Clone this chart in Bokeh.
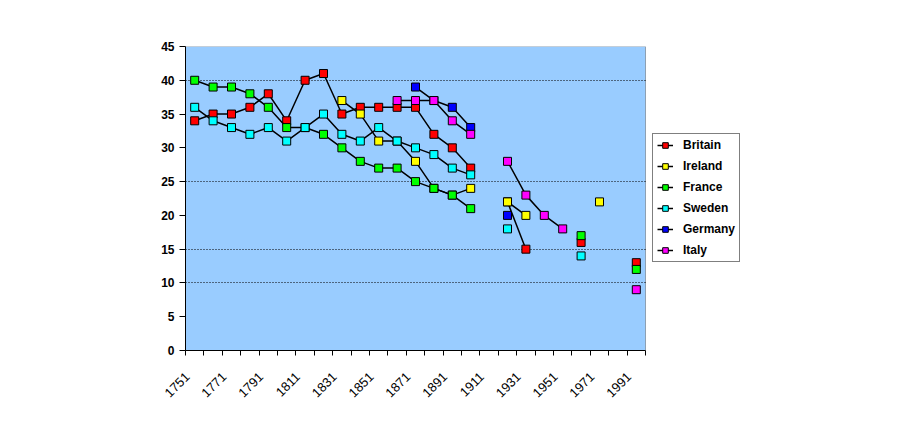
import math
import numpy as np
from bokeh.plotting import figure
from bokeh.models import Range1d, FixedTicker, Legend, LegendItem, BoxAnnotation
from bokeh.embed import file_html
from bokeh.resources import INLINE

nan = np.nan
years = [1751 + 10 * i for i in range(25)]
tick_labels = [str(y) for y in years[::2]]

britain = [34, 35, 35, 36, 38, 34, 40, 41, 35, 36, 36, 36, 36, 32, 30, 27, nan, 22, 15, nan, nan, 16, nan, nan, 13]
ireland = [nan, nan, nan, nan, nan, nan, nan, nan, 37, 35, 31, 31, 28, 24, 23, 24, nan, 22, 20, nan, nan, nan, 22, nan, nan]
france = [40, 39, 39, 38, 36, 33, 33, 32, 30, 28, 27, 27, 25, 24, 23, 21, nan, nan, nan, nan, nan, 17, nan, nan, 12]
sweden = [36, 34, 33, 32, 33, 31, 33, 35, 32, 31, 33, 31, 30, 29, 27, 26, nan, 18, nan, nan, nan, 14, nan, nan, nan]
germany = [nan, nan, nan, nan, nan, nan, nan, nan, nan, nan, nan, nan, 39, 37, 36, 33, nan, 20, nan, nan, nan, nan, nan, nan, nan]
italy = [nan, nan, nan, nan, nan, nan, nan, nan, nan, nan, nan, 37, 37, 37, 34, 32, nan, 28, 23, 20, 18, nan, nan, nan, 9]

series = [
    ("Britain", britain, "#ff0000"),
    ("Ireland", ireland, "#ffff00"),
    ("France", france, "#00ff00"),
    ("Sweden", sweden, "#00ffff"),
    ("Germany", germany, "#0000ff"),
    ("Italy", italy, "#ff00ff"),
]

# category band edges
x_lo, x_hi = years[0] - 5, years[-1] + 5
W, H = 900, 434
LEFT, RIGHT, TOP, BOTTOM = 185, 10, 46, 84
area_px = 460                      # width of the blue plotting area
frame_px = W - LEFT - RIGHT        # frame extends under the legend
x_end = x_lo + (x_hi - x_lo) * frame_px / area_px

p = figure(width=W, height=H, output_backend="svg", toolbar_location=None,
           x_range=Range1d(x_lo, x_end), y_range=Range1d(0, 45))
p.min_border_left = LEFT
p.min_border_right = RIGHT
p.min_border_top = TOP
p.min_border_bottom = BOTTOM
p.background_fill_color = "white"
p.border_fill_color = "white"
p.outline_line_color = None

area = BoxAnnotation(left=x_lo, right=x_hi, bottom=0, top=45,
                     fill_color="#99ccff", fill_alpha=1,
                     line_color="black", line_width=1, level="image")
p.add_layout(area)

p.xgrid.visible = False
p.ygrid.ticker = FixedTicker(ticks=[10, 15, 25, 40])
p.ygrid.cross_bounds = (x_lo, x_hi)
p.ygrid.grid_line_color = "black"
p.ygrid.grid_line_dash = "1 2"
p.ygrid.grid_line_width = 1

p.yaxis.ticker = FixedTicker(ticks=list(range(0, 46, 5)))
p.yaxis.major_tick_out = 6
p.yaxis.major_tick_in = 0
p.yaxis.minor_tick_out = 0
p.yaxis.axis_line_color = "black"
p.yaxis.major_label_text_font = "Liberation Sans"
p.yaxis.major_label_text_font_style = "bold"
p.yaxis.major_label_text_font_size = "12px"
p.yaxis.major_label_text_color = "black"
p.yaxis.major_label_standoff = 5

label_pos = [y - 4 for y in years[::2]]
p.xaxis.bounds = (x_lo, x_hi)
p.xaxis.ticker = FixedTicker(ticks=label_pos,
                             minor_ticks=[x_lo + 10 * i for i in range(26)])
p.xaxis.major_label_overrides = {x: l for x, l in zip(label_pos, tick_labels)}
p.xaxis.major_tick_out = 0
p.xaxis.major_tick_in = 0
p.xaxis.minor_tick_out = 5
p.xaxis.minor_tick_in = 0
p.xaxis.axis_line_color = "black"
p.xaxis.major_label_orientation = math.pi / 4
p.xaxis.major_label_text_font = "Liberation Sans"
p.xaxis.major_label_text_font_size = "13px"
p.xaxis.major_label_text_color = "black"
p.xaxis.major_label_standoff = 19

items = []
for name, vals, color in series:
    ln = p.line(years, vals, line_color="black", line_width=1.5)
    sc = p.scatter(years, vals, marker="square", size=8, fill_color=color,
                   line_color="black", line_width=1)
    items.append(LegendItem(label=name, renderers=[ln, sc]))

legend = Legend(items=items, location=(467, 88))
legend.border_line_color = "black"
legend.border_line_width = 1
legend.background_fill_color = "white"
legend.background_fill_alpha = 1
legend.padding = 4
legend.margin = 0
legend.spacing = 7
legend.glyph_width = 16
legend.glyph_height = 14
legend.label_height = 14
legend.label_standoff = 10
legend.label_text_font = "Liberation Sans"
legend.label_text_font_style = "bold"
legend.label_text_font_size = "12px"
legend.label_text_color = "black"
p.add_layout(legend, "center")

open("out.html", "w").write(file_html(p, INLINE))
